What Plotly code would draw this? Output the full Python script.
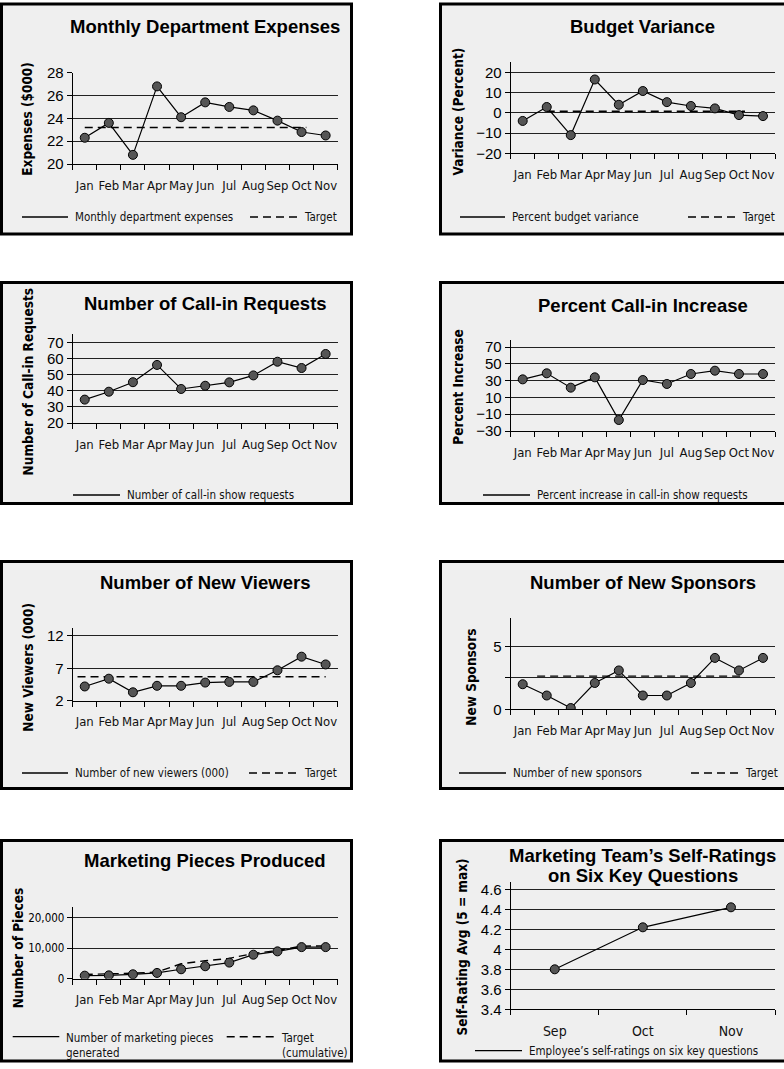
import plotly.graph_objects as go

# ---------------- data ----------------
months = ["Jan", "Feb", "Mar", "Apr", "May", "Jun", "Jul", "Aug", "Sep", "Oct", "Nov"]

expenses = [22.3, 23.6, 20.8, 26.8, 24.1, 25.4, 25.0, 24.7, 23.8, 22.8, 22.5]
expense_target = 23.2

variance = [-4.0, 2.9, -11.0, 16.5, 4.0, 10.8, 5.3, 3.4, 2.2, -1.1, -1.6]
variance_target = 0.8

callins = [34.5, 39.4, 45.3, 56.0, 41.1, 43.1, 45.2, 49.5, 58.0, 54.1, 62.8]

callin_increase = [31.5, 38.7, 21.6, 33.9, -16.9, 30.7, 26.0, 37.9, 41.8, 37.9, 37.9]

new_viewers = [4.2, 5.4, 3.3, 4.3, 4.3, 4.8, 4.9, 4.9, 6.7, 8.8, 7.6]
viewer_target = 5.7

new_sponsors = [2.0, 1.1, 0.1, 2.1, 3.1, 1.1, 1.1, 2.1, 4.1, 3.1, 4.1]
sponsor_target = 2.65

pieces_actual = [1000, 1100, 1450, 1900, 3100, 4100, 5300, 7900, 9000, 10400, 10400]
pieces_target = [1400, 1550, 1800, 2200, 4900, 5900, 6700, 8300, 9300, 10700, 10800]

rating_months = ["Sep", "Oct", "Nov"]
ratings = [3.80, 4.22, 4.42]

# ---------------- styling helpers ----------------
W, H = 784, 1069
NARROW = "DejaVu Sans Condensed, DejaVu Sans, sans-serif"
REG = "Liberation Sans, Arial, sans-serif"
PANEL_FILL = "#efefef"
GRID = "#222222"


def fx(px):
    return px / W


def fy(py):
    return 1 - py / H


LEFT = (1.5, 351.5)
RIGHT = (440.5, 790)
PLOT_L = (72.7, 337.7)
PLOT_R = (510.7, 775.0)

panels = [
    dict(box=(LEFT, (4, 234)), plot=(PLOT_L, (72.7, 164.0)), yrange=[20, 28],
         title=["Monthly Department Expenses"], title_y=[27],
         ytitle="Expenses ($000)", ytitle_pos=(26.7, 119),
         tickvals=[20, 22, 24, 26, 28], ticktext=["20", "22", "24", "26", "28"],
         cats=months, series=[(expenses, "solid", True)],
         target=(expense_target, "Jan", "Oct", 0.0, 0.2),
         legend=[(22, 68, "solid", "Monthly department expenses"), (250, 297, "dash", "Target")], legend_y=217),
    dict(box=(RIGHT, (4, 234)), plot=(PLOT_R, (62.3, 153.3)), yrange=[-20, 25],
         title=["Budget Variance"], title_y=[27],
         ytitle="Variance (Percent)", ytitle_pos=(457.7, 111.7),
         tickvals=[-20, -10, 0, 10, 20], ticktext=["\u221220", "\u221210", "0", "10", "20"],
         cats=months, series=[(variance, "solid", True)],
         target=(variance_target, "Feb", "Oct", 0.0, 0.25),
         legend=[(460, 505, "solid", "Percent budget variance"), (688, 735, "dash", "Target")], legend_y=217),
    dict(box=(LEFT, (282.5, 503.5)), plot=(PLOT_L, (334.3, 423.0)), yrange=[20, 75],
         title=["Number of Call-in Requests"], title_y=[303.5],
         ytitle="Number of Call-in Requests", ytitle_pos=(27.7, 381.7),
         tickvals=[20, 30, 40, 50, 60, 70], ticktext=["20", "30", "40", "50", "60", "70"],
         cats=months, series=[(callins, "solid", True)], target=None,
         legend=[(73, 120, "solid", "Number of call-in show requests")], legend_y=495),
    dict(box=(RIGHT, (282.5, 503.5)), plot=(PLOT_R, (340.3, 431.0)), yrange=[-30, 78],
         title=["Percent Call-in Increase"], title_y=[305],
         ytitle="Percent Increase", ytitle_pos=(457.7, 387),
         tickvals=[-30, -10, 10, 30, 50, 70], ticktext=["\u221230", "\u221210", "10", "30", "50", "70"],
         cats=months, series=[(callin_increase, "solid", True)], target=None,
         legend=[(483, 530, "solid", "Percent increase in call-in show requests")], legend_y=495),
    dict(box=(LEFT, (561.5, 788.5)), plot=(PLOT_L, (628.2, 700.7)), yrange=[2, 13.2],
         title=["Number of New Viewers"], title_y=[582],
         ytitle="New Viewers (000)", ytitle_pos=(27.7, 667),
         tickvals=[2, 7, 12], ticktext=["2", "7", "12"],
         cats=months, series=[(new_viewers, "solid", True)],
         target=(viewer_target, "Jan", "Nov", -0.3, 0.0),
         legend=[(22, 68, "solid", "Number of new viewers (000)"), (249, 297, "dash", "Target")], legend_y=773),
    dict(box=(RIGHT, (561.5, 788.5)), plot=(PLOT_R, (617.8, 709.3)), yrange=[0, 7.3],
         title=["Number of New Sponsors"], title_y=[582],
         ytitle="New Sponsors", ytitle_pos=(471, 676.7),
         tickvals=[0, 2.5, 5], ticktext=["0", "", "5"],
         cats=months, series=[(new_sponsors, "solid", True)],
         target=(sponsor_target, "Jan", "Oct", 0.6, 0.25),
         legend=[(459, 506, "solid", "Number of new sponsors"), (691, 738, "dash", "Target")], legend_y=773),
    dict(box=(LEFT, (840.5, 1061)), plot=(PLOT_L, (906.7, 978.7)), yrange=[0, 23700],
         title=["Marketing Pieces Produced"], title_y=[860],
         ytitle="Number of Pieces", ytitle_pos=(18.3, 948),
         tickvals=[0, 10000, 20000], ticktext=["0", "10,000", "20,000"], narrow_y=True,
         cats=months, series=[(pieces_target, "dash", False), (pieces_actual, "solid", True)], target=None,
         legend=[(12.7, 59.3, "solid", "Number of marketing pieces<br>generated"),
                 (226.7, 274, "dash", "Target<br>(cumulative)")], legend_y=1036.7),
    dict(box=(RIGHT, (840.5, 1061)), plot=(PLOT_R, (881.7, 1009.3)), yrange=[3.4, 4.676],
         title=["Marketing Team\u2019s Self-Ratings", "on Six Key Questions"], title_y=[855, 875],
         ytitle="Self-Rating Avg (5 = max)", ytitle_pos=(461.7, 946.7),
         tickvals=[3.4, 3.6, 3.8, 4.0, 4.2, 4.4, 4.6],
         ticktext=["3.4", "3.6", "3.8", "4", "4.2", "4.4", "4.6"],
         cats=rating_months, series=[(ratings, "solid", True)], target=None,
         legend=[(475, 522, "solid", "Employee\u2019s self-ratings on six key questions")], legend_y=1050.7,
         legend_size=11.5, xfont=14),
]

fig = go.Figure()
shapes = []
annotations = []
layout = {}

for i, p in enumerate(panels, start=1):
    sx = "" if i == 1 else str(i)
    xa, ya = "x" + sx, "y" + sx
    (bx0, bx1), (by0, by1) = p["box"]
    (plx0, plx1), (ply0, ply1) = p["plot"]
    n = len(p["cats"])
    xs = list(range(n))

    # panel frame
    shapes.append(dict(type="rect", xref="paper", yref="paper",
                       x0=fx(bx0), x1=fx(bx1), y0=fy(by1), y1=fy(by0),
                       fillcolor=PANEL_FILL, line=dict(color="black", width=3), layer="below"))

    layout["xaxis" + sx] = dict(
        domain=[fx(plx0), fx(plx1)], anchor=ya, range=[-0.5, n - 0.5],
        tickmode="array", tickvals=xs, ticktext=p["cats"], ticks="", tickangle=0,
        ticklabelstandoff=9, automargin=False,
        tickfont=dict(family=NARROW, size=p.get("xfont", 13), color="#111111"),
        showgrid=False, zeroline=False, showline=True, linecolor="black", linewidth=1,
        minor=dict(tickmode="array", tickvals=[k - 0.5 for k in range(n + 1)],
                   ticks="outside", ticklen=5, tickcolor="black", tickwidth=1, showgrid=False),
        fixedrange=True)
    layout["yaxis" + sx] = dict(
        domain=[fy(ply1), fy(ply0)], anchor=xa, range=p["yrange"],
        tickmode="array", tickvals=p["tickvals"], ticktext=p["ticktext"],
        ticks="outside", ticklen=5, tickcolor="black", tickwidth=1, automargin=False,
        tickfont=dict(family=NARROW, size=11.5, color="black") if p.get("narrow_y")
        else dict(family=REG, size=15, color="black"),
        showgrid=True, gridcolor=GRID, gridwidth=1, zeroline=False,
        showline=True, linecolor="black", linewidth=1, fixedrange=True)

    # target line
    if p["target"] is not None:
        tval, m0, m1, pad0, pad1 = p["target"]
        i0, i1 = p["cats"].index(m0) + pad0, p["cats"].index(m1) + pad1
        fig.add_trace(go.Scatter(x=[i0, i1], y=[tval, tval], mode="lines",
                                 line=dict(color="black", width=1.4, dash="8px,5px"),
                                 xaxis=xa, yaxis=ya, showlegend=False, hoverinfo="skip"))

    for vals, dash, markers in p["series"]:
        if markers:
            fig.add_trace(go.Scatter(x=xs, y=vals, mode="lines+markers",
                                     line=dict(color="black", width=1.2),
                                     marker=dict(size=9, color="#555555", line=dict(color="black", width=1)),
                                     xaxis=xa, yaxis=ya, showlegend=False))
        else:
            fig.add_trace(go.Scatter(x=xs, y=vals, mode="lines",
                                     line=dict(color="black", width=1.4, dash="8px,5px"),
                                     xaxis=xa, yaxis=ya, showlegend=False))

    # title
    for line, ty in zip(p["title"], p["title_y"]):
        annotations.append(dict(text="<b>" + line + "</b>", xref="paper", yref="paper",
                                x=fx((plx0 + plx1) / 2), y=fy(ty), xanchor="center", yanchor="middle",
                                showarrow=False, font=dict(family=REG, size=18.5, color="black")))
    # y-axis title
    tx, ty = p["ytitle_pos"]
    annotations.append(dict(text="<b>" + p["ytitle"] + "</b>", xref="paper", yref="paper",
                            x=fx(tx), y=fy(ty), xanchor="center", yanchor="middle", textangle=-90,
                            showarrow=False, font=dict(family=NARROW, size=13.5, color="black")))
    # legend
    ly = p["legend_y"]
    lsize = p.get("legend_size", 11.5)
    for lx0, lx1, style, label in p["legend"]:
        shapes.append(dict(type="line", xref="paper", yref="paper",
                           x0=fx(lx0), x1=fx(lx1), y0=fy(ly), y1=fy(ly),
                           line=dict(color="black", width=1.3 if style == "solid" else 1.4,
                                     dash="solid" if style == "solid" else "8px,5px")))
        multi = "<br>" in label
        annotations.append(dict(text=label, xref="paper", yref="paper",
                                x=fx(lx1 + 5), y=fy(ly - 8) if multi else fy(ly),
                                xanchor="left", yanchor="top" if multi else "middle", align="left",
                                showarrow=False, font=dict(family=NARROW, size=lsize, color="#111111")))

fig.update_layout(width=W, height=H, autosize=False,
                  margin=dict(l=0, r=0, t=0, b=0, pad=0, autoexpand=False),
                  paper_bgcolor="white", plot_bgcolor="rgba(0,0,0,0)",
                  shapes=shapes, annotations=annotations, showlegend=False, **layout)

fig.write_html("out.html",
               config={"displayModeBar": False, "responsive": False},
               post_script="document.body.style.margin='0';"
                           "document.documentElement.style.overflow='hidden';")
